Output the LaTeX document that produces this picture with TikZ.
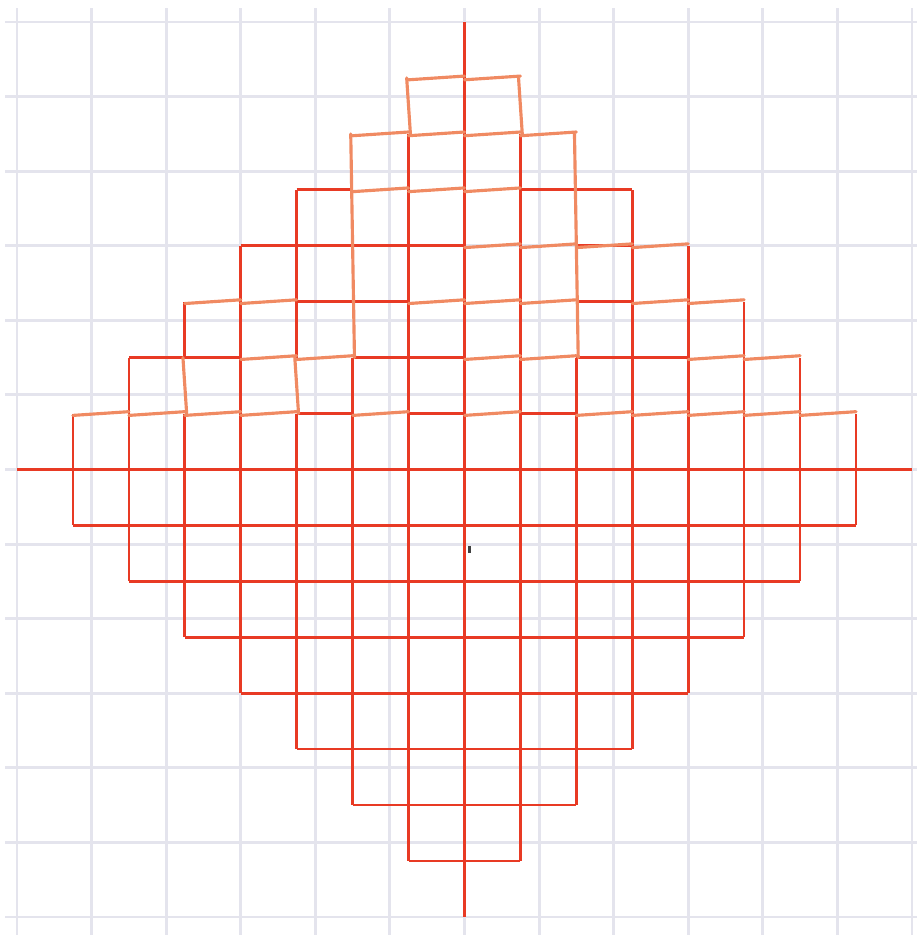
\documentclass[tikz,border=0pt]{standalone}
\usepackage{tikz}
\definecolor{rouge}{RGB}{232,58,36}
\definecolor{saumon}{RGB}{240,138,98}
\definecolor{quadrillage}{RGB}{228,228,237}
\tikzset{trait/.style={rouge,line width=1pt},
	biais/.style={saumon,line width=1.2pt,line cap=round}}
\newcommand{\hor}[3]{\draw[trait] (#1*3/4,#3*3/4) -- (#2*3/4,#3*3/4)}
\newcommand{\ver}[3]{\draw[trait] (#1*3/4,#2*3/4) -- (#1*3/4,#3*3/4)}
\newcommand{\tuile}[2]{\draw[biais] (#1*3/4,#2*3/4-1/40) -- (#1*3/4+3/4,#2*3/4+1/40)}
\newcommand{\pente}[3]{\draw[biais] (#1*3/4-1/40,#3*3/4) -- (#1*3/4+1/40,#2*3/4)}

\begin{document}
\begin{tikzpicture}
\useasboundingbox (-6.228,-6.242) rectangle (6.067,6.295);
%Background
	\draw[quadrillage,line width=1.1pt] (-6.16,-6.242) grid (6.067,6.19);
%Axes
	\draw[trait] (-6,0) -- (6,0);
	\draw[trait] (0,-6) -- (0,6);
%The lower half
	\hor{-7}{7}{-1};
	\hor{-6}{6}{-2};
	\hor{-5}{5}{-3};
	\hor{-4}{4}{-4};
	\hor{-3}{3}{-5};
	\hor{-2}{2}{-6};
	\hor{-1}{1}{-7};
	\ver{-7}{0}{-1}; \ver{7}{0}{-1};
	\ver{-6}{0}{-2}; \ver{6}{0}{-2};
	\ver{-5}{0}{-3}; \ver{5}{0}{-3};
	\ver{-4}{0}{-4}; \ver{4}{0}{-4};
	\ver{-3}{0}{-5}; \ver{3}{0}{-5};
	\ver{-2}{0}{-6}; \ver{2}{0}{-6};
	\ver{-1}{0}{-7}; \ver{1}{0}{-7};
%The upper half, straight
	\ver{-7}{0}{1}; \ver{7}{0}{1};
	\ver{-6}{0}{2}; \ver{6}{0}{2};
	\ver{-5}{0}{1}; \ver{-5}{2}{3}; \ver{5}{0}{3};
	\ver{-4}{0}{4}; \ver{4}{0}{4};
	\ver{-3}{0}{1}; \ver{-3}{2}{5}; \ver{3}{0}{5};
	\ver{-2}{0}{2}; \ver{2}{0}{2};
	\ver{-1}{0}{6}; \ver{1}{0}{6};
	\hor{-3}{-2}{1}; \hor{-1}{0}{1}; \hor{1}{2}{1};
	\hor{-6}{-4}{2}; \hor{-2}{0}{2}; \hor{2}{4}{2};
	\hor{-3}{-1}{3}; \hor{2}{3}{3};
	\hor{-4}{0}{4}; \hor{2}{3}{4};
	\hor{-3}{-2}{5}; \hor{1}{3}{5};
%The upper half, tilted
	\tuile{-7}{1}; \tuile{-6}{1}; \tuile{-5}{1}; \tuile{-4}{1}; \tuile{-2}{1}; \tuile{0}{1};
	\tuile{2}{1}; \tuile{3}{1}; \tuile{4}{1}; \tuile{5}{1}; \tuile{6}{1};
	\tuile{-4}{2}; \tuile{-3}{2}; \tuile{0}{2}; \tuile{1}{2}; \tuile{4}{2}; \tuile{5}{2};
	\tuile{-5}{3}; \tuile{-4}{3}; \tuile{-1}{3}; \tuile{0}{3}; \tuile{1}{3}; \tuile{3}{3}; \tuile{4}{3};
	\tuile{0}{4}; \tuile{1}{4}; \tuile{2}{4}; \tuile{3}{4};
	\tuile{-2}{5}; \tuile{-1}{5}; \tuile{0}{5};
	\tuile{-2}{6}; \tuile{-1}{6}; \tuile{0}{6}; \tuile{1}{6};
	\tuile{-1}{7}; \tuile{0}{7};
	\pente{-5}{1}{2}; \pente{-3}{1}{2};
	\pente{-2}{2}{6}; \pente{2}{2}{6};
	\pente{-1}{6}{7}; \pente{1}{6}{7};
%Mark
	\fill[black!75] (0.047,-1.12) rectangle (0.087,-1.026);
\end{tikzpicture}
\end{document}
